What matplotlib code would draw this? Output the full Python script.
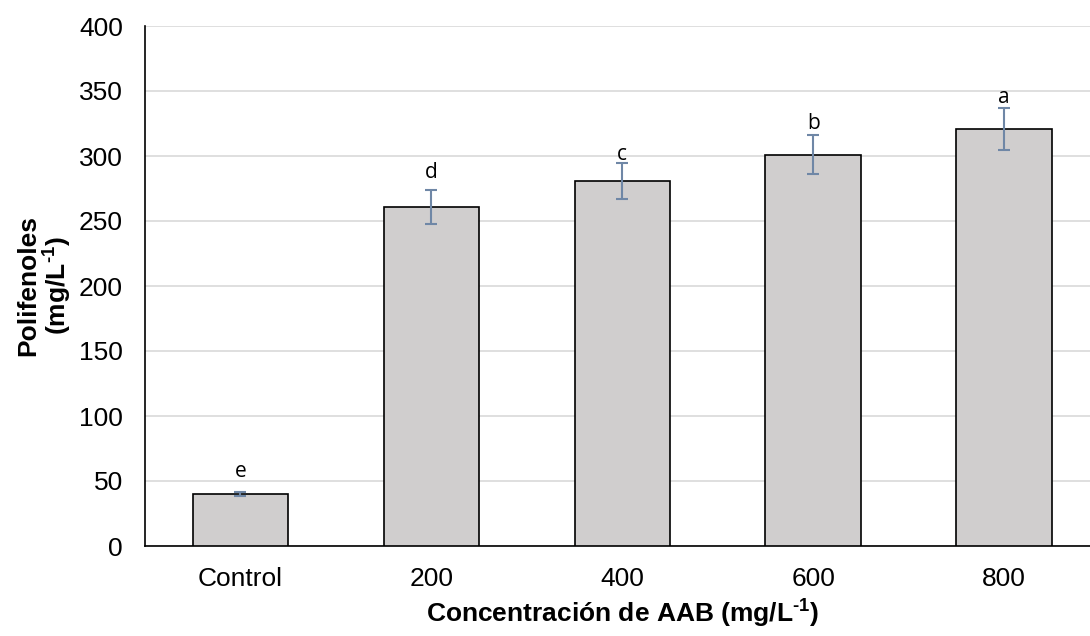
import matplotlib
matplotlib.use("Agg")
import matplotlib.pyplot as plt
import numpy as np

categories = ["Control", "200", "400", "600", "800"]
values = [40, 261, 281, 301, 321]
errors = [1.5, 13, 14, 15, 16]
letters = ["e", "d", "c", "b", "a"]
letter_y = [53, 283, 297, 321, 341]

plt.rcParams['font.family'] = ['Liberation Sans', 'DejaVu Sans']
plt.rcParams['mathtext.fontset'] = 'custom'
plt.rcParams['mathtext.rm'] = 'Liberation Sans:bold'
plt.rcParams['mathtext.bf'] = 'Liberation Sans:bold'

fig = plt.figure(figsize=(10.9, 6.36), dpi=100)
ax = fig.add_axes([145/1090, 1-546/636, (1099.5-145)/1090, (546-26)/636])

x = np.arange(len(categories))
ax.bar(x, values, width=0.5, color='#d0cece', edgecolor='black', linewidth=1.2, zorder=3)
ax.errorbar(x, values, yerr=errors, fmt='none', ecolor='#6f87a6', elinewidth=1.5,
            capsize=4.3, capthick=1.5, zorder=4)
for xi, lab, ly in zip(x, letters, letter_y):
    ax.text(xi, ly, lab, ha='center', va='baseline', fontsize=15, family='Open Sans', zorder=5)

ax.set_xlim(-0.5, 4.5)
ax.set_ylim(0, 400)
ax.set_yticks(np.arange(0, 401, 50))
ax.set_xticks(x)
ax.set_xticklabels(categories)
ax.tick_params(axis='both', length=0, labelsize=19)
ax.tick_params(axis='y', pad=16)
ax.tick_params(axis='x', pad=15)
ax.grid(axis='y', color='#d9d9d9', linewidth=1.2, zorder=0)
ax.set_axisbelow(True)
for s in ['top', 'right']:
    ax.spines[s].set_visible(False)
ax.spines['left'].set_linewidth(1.2)
ax.spines['bottom'].set_linewidth(1.2)

sup = r'$^{\text{-1}}$'
ax.set_xlabel('Concentración de AAB (mg/L' + sup + ')', fontsize=19, fontweight='bold', labelpad=4)
ax.set_ylabel('Polifenoles\n(mg/L' + sup + ')', fontsize=19, fontweight='bold',
              labelpad=4, linespacing=1.0)

fig.savefig('out.png', dpi=100)
